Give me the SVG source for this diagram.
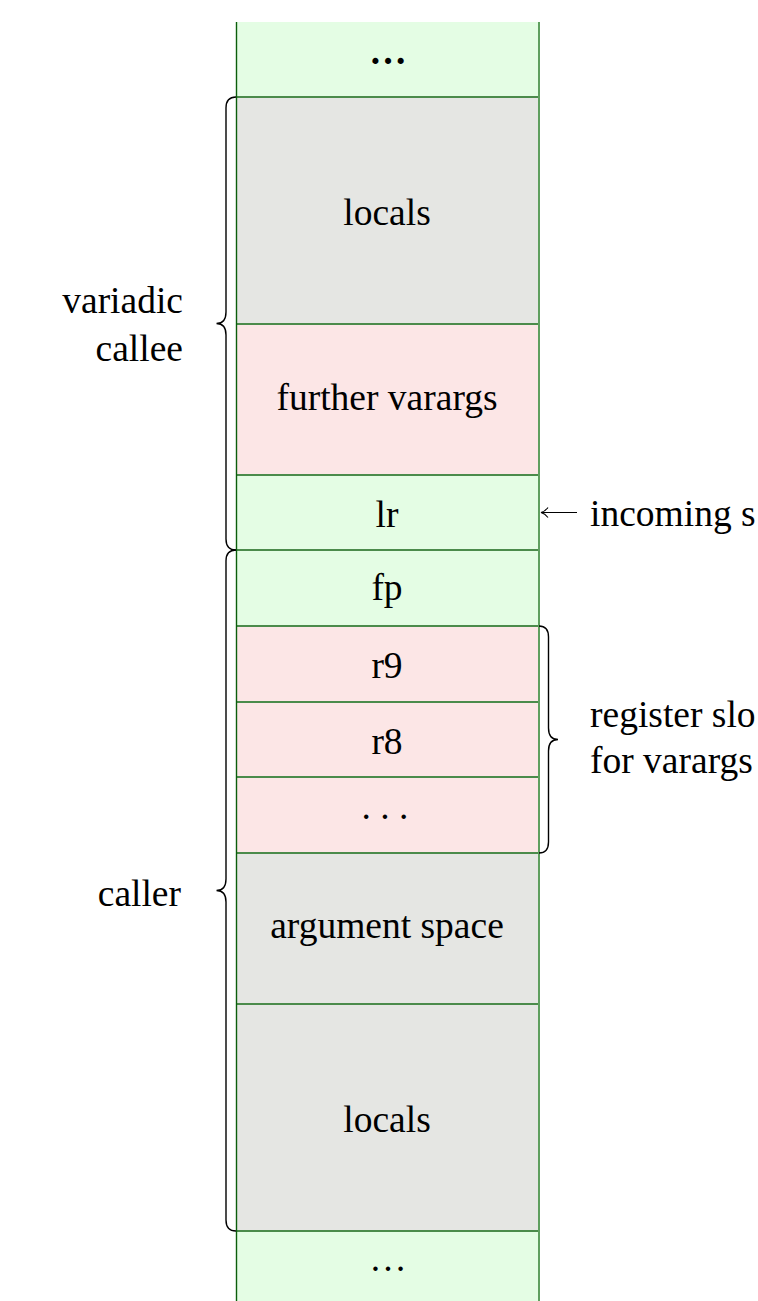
<svg xmlns="http://www.w3.org/2000/svg" width="758" height="1301" viewBox="0 0 758 1301">
<style>
.g{fill:#e4fde4}
.k{fill:#e5e6e3}
.p{fill:#fce6e6}
.t{font-family:'Liberation Serif','Times New Roman','DejaVu Serif',serif;font-size:37.5px;fill:#000}
.c{text-anchor:middle}
.r{text-anchor:end}
.h{stroke:#4b8b4b;stroke-width:2;fill:none}
.br{fill:none;stroke:#000;stroke-width:1.4}
</style>
<rect width="758" height="1301" fill="#fff"/>
<g id="cell-top"><rect class="g" x="236" y="22" width="303" height="75"/><text x="388" y="64" class="t c" font-weight="bold" font-size="51">…</text></g>
<g id="cell-locals-callee"><rect class="k" x="236" y="97" width="303" height="227"/><text x="387" y="225" class="t c">locals</text></g>
<g id="cell-further-varargs"><rect class="p" x="236" y="324" width="303" height="151"/><text x="387" y="410" class="t c">further varargs</text></g>
<g id="cell-lr"><rect class="g" x="236" y="475" width="303" height="75"/><text x="387" y="527" class="t c">lr</text></g>
<g id="cell-fp"><rect class="g" x="236" y="550" width="303" height="76"/><text x="387" y="600" class="t c">fp</text></g>
<g id="cell-r9"><rect class="p" x="236" y="626" width="303" height="76"/><text x="387" y="678" class="t c">r9</text></g>
<g id="cell-r8"><rect class="p" x="236" y="702" width="303" height="75"/><text x="387" y="754" class="t c">r8</text></g>
<g id="cell-dots"><rect class="p" x="236" y="777" width="303" height="76"/><text x="385" y="819" class="t c" font-size="30">. . .</text></g>
<g id="cell-argument-space"><rect class="k" x="236" y="853" width="303" height="151"/><text x="387" y="938" class="t c">argument space</text></g>
<g id="cell-locals-caller"><rect class="k" x="236" y="1004" width="303" height="227"/><text x="387" y="1132" class="t c">locals</text></g>
<g id="cell-bottom"><rect class="g" x="236" y="1231" width="303" height="70"/><text x="388" y="1271" class="t c" font-size="30">…</text></g>
<g id="grid">
<path class="h" d="M236,97H539M236,324H539M236,475H539M236,550H539M236,626H539M236,702H539M236,777H539M236,853H539M236,1004H539M236,1231H539"/>
<line x1="236.5" y1="22" x2="236.5" y2="1301" stroke="#0b5e0b" stroke-width="1.4"/>
<line x1="539" y1="22" x2="539" y2="1301" stroke="#5f9f5f" stroke-width="2"/>
</g>
<g id="connectors">
<path class="br" d="M236,97 Q226,97 226,108 L226,312 Q226,323.5 216.5,323.5 Q226,323.5 226,335 L226,539 Q226,550 236,550"/>
<path class="br" d="M236,550 Q226,550 226,561 L226,879 Q226,890.5 216.5,890.5 Q226,890.5 226,902 L226,1220 Q226,1231 236,1231"/>
<path class="br" d="M539,626 Q548.5,626 548.5,637 L548.5,728 Q548.5,739.5 558,739.5 Q548.5,739.5 548.5,751 L548.5,842 Q548.5,853 539,853"/>
<line x1="577" y1="512.5" x2="542" y2="512.5" stroke="#000" stroke-width="1.2"/>
<path d="M548,507.5 Q545,511.5 541,512.5 Q545,513.5 548,517.5" fill="none" stroke="#000" stroke-width="1.1"/>
</g>
<g id="labels">
<text x="183" y="313" class="t r">variadic</text>
<text x="183" y="361" class="t r">callee</text>
<text x="181" y="906" class="t r">caller</text>
<text x="590" y="526" class="t">incoming s</text>
<text x="590" y="727" class="t">register slo</text>
<text x="590" y="773" class="t">for varargs</text>
</g>
</svg>
